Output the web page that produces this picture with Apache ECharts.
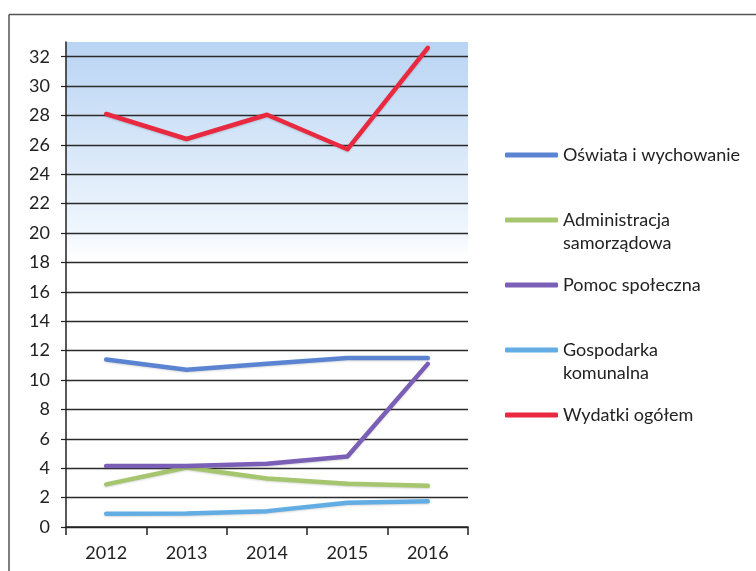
<!DOCTYPE html>
<html>
<head>
<meta charset="utf-8">
<script src="https://cdn.jsdelivr.net/npm/echarts@6/dist/echarts.min.js"></script>
<style>
html,body{margin:0;padding:0;background:#fff;}
#c{width:756px;height:571px;}
</style>
</head>
<body>
<div id="c"></div>
<script>
const years = ['2012', '2013', '2014', '2015', '2016'];
const oswiata = [11.4, 10.7, 11.1, 11.5, 11.5];
const administracja = [2.9, 4.05, 3.3, 2.95, 2.8];
const pomoc = [4.15, 4.15, 4.3, 4.8, 11.1];
const gospodarka = [0.9, 0.92, 1.08, 1.65, 1.75];
const wydatki = [28.1, 26.4, 28.05, 25.7, 32.6];
const seriesNames = ['Oświata i wychowanie', 'Administracja samorządowa', 'Pomoc społeczna', 'Gospodarka komunalna', 'Wydatki ogółem'];
const legendLabels = ['Oświata i wychowanie', '\nAdministracja\nsamorządowa', 'Pomoc społeczna', '\nGospodarka\nkomunalna', 'Wydatki ogółem'];
const seriesData = [oswiata, administracja, pomoc, gospodarka, wydatki];
const colors = ['#5a84d2', '#a6c56f', '#7b5eb6', '#62ade3', '#e8293f'];
const legendTops = [143.5, 185.5, 273.5, 315.5, 403.5];

const font = 'Lato';
const chart = echarts.init(document.getElementById('c'));
chart.setOption({
  animation: false,
  backgroundColor: '#ffffff',
  graphic: [
    {type: 'line', shape: {x1: 9, y1: 14.5, x2: 756, y2: 14.5}, style: {stroke: '#555', lineWidth: 1.5}, silent: true},
    {type: 'line', shape: {x1: 9, y1: 14.5, x2: 9, y2: 571}, style: {stroke: '#555', lineWidth: 1.5}, silent: true}
  ],
  grid: {
    left: 66, right: 288, top: 42, bottom: 44,
    show: true, borderWidth: 0,
    backgroundColor: new echarts.graphic.LinearGradient(0, 0, 0, 1, [
      {offset: 0, color: '#b9d4f3'},
      {offset: 0.38, color: '#eef5fd'},
      {offset: 0.45, color: '#ffffff'},
      {offset: 1, color: '#ffffff'}
    ])
  },
  legend: seriesNames.map((n, i) => ({
    data: [n],
    orient: 'vertical',
    left: 505,
    top: legendTops[i],
    padding: 0,
    itemWidth: 53,
    itemHeight: 5,
    icon: 'roundRect',
    selectedMode: false,
    formatter: () => legendLabels[i],
    textStyle: {fontFamily: font, fontSize: 18, color: '#222', lineHeight: 23}
  })),
  xAxis: {
    type: 'category',
    data: years,
    boundaryGap: true,
    axisLine: {lineStyle: {color: '#222', width: 1.5}},
    axisTick: {show: true, length: 8, lineStyle: {color: '#222', width: 1.5}},
    axisLabel: {fontFamily: font, fontSize: 18, color: '#222', margin: 17},
    splitLine: {show: false}
  },
  yAxis: {
    type: 'value',
    min: 0, max: 33, interval: 2,
    axisLine: {show: true, lineStyle: {color: '#222', width: 1.5}},
    axisTick: {show: true, length: 5, lineStyle: {color: '#222', width: 1.2}},
    axisLabel: {fontFamily: font, fontSize: 18, color: '#222', margin: 16, showMaxLabel: false},
    splitLine: {show: true, showMaxLine: false, lineStyle: {color: '#2a2a2a', width: 1.4}}
  },
  series: seriesNames.map((n, i) => ({
    name: n,
    type: 'line',
    data: seriesData[i],
    symbol: 'none',
    smooth: false,
    color: colors[i],
    lineStyle: {width: 4.5, color: colors[i], cap: 'round', join: 'round', shadowColor: 'rgba(0,0,0,0.15)', shadowBlur: 2, shadowOffsetY: 1},
    itemStyle: {color: colors[i]}
  }))
});
</script>
</body>
</html>
